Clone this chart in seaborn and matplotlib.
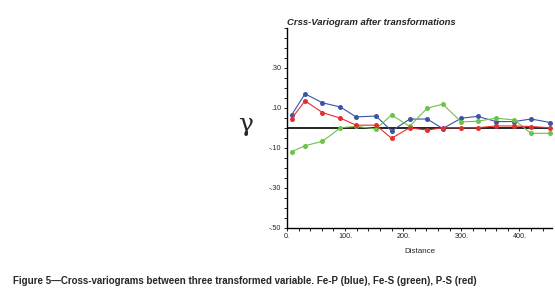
import numpy as np
import pandas as pd
import matplotlib
matplotlib.use("Agg")
import matplotlib.pyplot as plt
from matplotlib.ticker import MultipleLocator, FuncFormatter
import seaborn as sns

# ---- data ----
distance = [8, 31, 61, 92, 119, 153, 180, 211, 241, 268, 300, 328, 360, 391, 420, 453]
fe_p = [0.064, 0.170, 0.125, 0.104, 0.054, 0.059, -0.016, 0.043,
        0.044, -0.004, 0.048, 0.057, 0.031, 0.031, 0.044, 0.026]
fe_s = [-0.120, -0.090, -0.068, 0.000, 0.007, -0.006, 0.064, 0.007,
        0.098, 0.118, 0.029, 0.033, 0.048, 0.039, -0.028, -0.028]
p_s = [0.046, 0.135, 0.076, 0.048, 0.013, 0.013, -0.053, 0.000,
       -0.012, 0.000, 0.000, 0.000, 0.009, 0.009, 0.006, 0.000]
series_names = ["Fe-P", "Fe-S", "P-S"]
colors = {"Fe-P": "#3b54a8", "Fe-S": "#6cc24a", "P-S": "#e2302f"}
y_major = [-0.5, -0.3, -0.1, 0.1, 0.3]
x_major = [0, 100, 200, 300, 400]

df = pd.DataFrame({
    "Distance": distance * 3,
    "gamma": fe_p + fe_s + p_s,
    "pair": sum([[n] * len(distance) for n in series_names], []),
})

sns.set_style("ticks")
plt.rcParams["font.family"] = ["Liberation Sans", "DejaVu Sans"]
plt.rcParams["axes.unicode_minus"] = False

fig = plt.figure(figsize=(5.55, 2.98), dpi=100)
ax = fig.add_axes([287 / 555, 1 - 227.5 / 298, 265 / 555, 199.5 / 298])

ax.axhline(0, color="black", lw=1.2, zorder=1)
sns.lineplot(data=df, x="Distance", y="gamma", hue="pair", palette=colors,
             marker="o", markersize=3.6, markeredgewidth=0, lw=0.8,
             legend=False, ax=ax, zorder=3)

ax.set_xlim(0, 456)
ax.set_ylim(-0.5, 0.5)
ax.set_xticks(x_major)
ax.set_yticks(y_major)
ax.xaxis.set_minor_locator(MultipleLocator(20))
ax.yaxis.set_minor_locator(MultipleLocator(0.05))
ax.xaxis.set_major_formatter(FuncFormatter(lambda v, p: f"{int(round(v))}."))
def yfmt(v, p):
    s = f"{v:.2f}"
    return s.replace("0.", ".")
ax.yaxis.set_major_formatter(FuncFormatter(yfmt))
ax.tick_params(axis="both", which="both", direction="out", length=2.5,
               width=0.6, labelsize=5.2, pad=1.5, color="black")
for s in ["top", "right"]:
    ax.spines[s].set_visible(False)
for s in ["left", "bottom"]:
    ax.spines[s].set_linewidth(1.0)
    ax.spines[s].set_color("black")

ax.set_xlabel("Distance", fontsize=5.8, labelpad=6)
ax.set_ylabel("")

fig.text(287 / 555, 1 - 25 / 298, "Crss-Variogram after transformations",
         fontsize=6.8, fontweight="bold", fontstyle="italic",
         ha="left", va="baseline")
fig.text(246 / 555, 1 - 124 / 298, "γ", fontsize=18, ha="center", va="center",
         family=["DejaVu Serif"])
fig.text(13 / 555, 1 - 284 / 298,
         "Figure 5\u2014Cross-variograms between three transformed variable. "
         "Fe-P (blue), Fe-S (green), P-S (red)",
         fontsize=7.0, fontweight="bold", ha="left", va="baseline")

fig.savefig("out.png", dpi=100)
